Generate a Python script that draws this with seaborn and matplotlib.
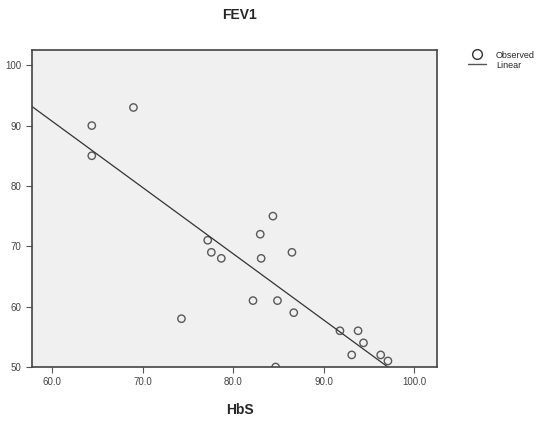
import numpy as np
import pandas as pd
import seaborn as sns
import matplotlib.pyplot as plt
from matplotlib.lines import Line2D

hbs = [64.4, 64.4, 69.0, 74.3, 77.2, 77.6, 78.7, 82.2, 83.0, 83.1, 84.4,
       84.9, 84.7, 86.5, 86.7, 91.8, 93.1, 93.8, 94.4, 96.3, 97.1]
fev1 = [90, 85, 93, 58, 71, 69, 68, 61, 72, 68, 75,
        61, 50, 69, 59, 56, 52, 56, 54, 52, 51]
x_ticks = [60.0, 70.0, 80.0, 90.0, 100.0]
y_ticks = [50, 60, 70, 80, 90, 100]

df = pd.DataFrame({"HbS": hbs, "FEV1": fev1})

sns.set_style("white")
plt.rcParams["font.family"] = ["Liberation Sans", "DejaVu Sans"]

fig = plt.figure(figsize=(5.38, 4.25), dpi=100)
ax = fig.add_axes([0.0595, 0.1365, 0.7525, 0.7455])
ax.set_facecolor("#f0f0f0")
ax.set_xlim(57.8, 102.5)
ax.set_ylim(50, 102.5)

sns.regplot(data=df, x="HbS", y="FEV1", ax=ax, ci=None, truncate=False,
            scatter_kws=dict(s=28, facecolors="none", edgecolors="#333333", linewidths=1.0),
            line_kws=dict(color="#333333", lw=0.9))

ax.set_xticks(x_ticks)
ax.set_xticklabels([f"{v:.1f}" for v in x_ticks])
ax.set_yticks(y_ticks)
ax.tick_params(axis="both", labelsize=7, colors="#555555", length=4, width=0.8,
               direction="out", bottom=True, left=True)
for lbl in ax.get_xticklabels() + ax.get_yticklabels():
    lbl.set_color("#444444")
ax.set_xlabel("")
ax.set_ylabel("")
for side in ["left", "bottom", "top", "right"]:
    ax.spines[side].set_color("#444444")
    ax.spines[side].set_linewidth(1.2)

fig.text(0.446, 0.965, "FEV1", ha="center", va="center", fontsize=10, fontweight="bold")
fig.text(0.446, 0.035, "HbS", ha="center", va="center", fontsize=10, fontweight="bold")

handles = [
    Line2D([], [], marker="o", ls="none", markerfacecolor="none",
           markeredgecolor="#333333", markersize=7),
    Line2D([], [], color="#555555", lw=1.0),
]
fig.legend(handles, ["Observed", "Linear"], loc="upper left",
           bbox_to_anchor=(0.855, 0.90), frameon=False, fontsize=6.5,
           handlelength=2.0, handletextpad=1.1, labelspacing=0.1)

fig.savefig("out.png", dpi=100)
